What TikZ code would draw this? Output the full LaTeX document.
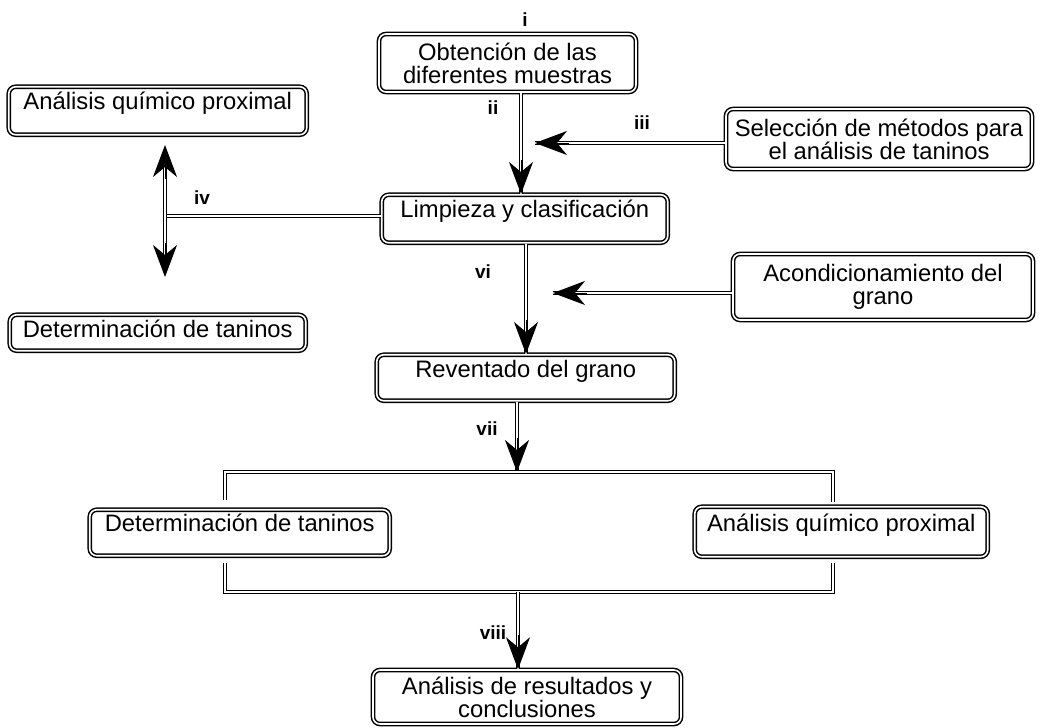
\documentclass[tikz,border=0pt]{standalone}
\usepackage{fontspec}
\setmainfont{Liberation Sans}
\usetikzlibrary{arrows.meta,calc}
\newcommand\boxfont{\fontsize{23.8}{23}\selectfont\lineskiplimit=-30pt}
\newcommand\labfont{\bfseries\fontsize{19}{19}\selectfont}
\begin{document}
\begin{tikzpicture}[x=1pt,y=-1pt,
  box/.style={draw, double, line width=1.5pt, double distance=1.6pt, rounded corners=7pt,
              inner sep=0pt, align=center, font=\boxfont},
  lab/.style={inner sep=0pt, font=\labfont},
  dbl/.style={draw, double, line width=1.2pt, double distance=1.3pt},
  tipA/.style={-{Stealth[length=32pt,width=24pt,inset=10pt]}, line width=1pt}]
\useasboundingbox[fill=white] (0,0) rectangle (1044,728);

% single-line boxes (text at top)
\node[box, anchor=north west, minimum width=298pt, text height=23pt, text depth=25pt] (aqp1) at (8,86) {An\'alisis qu\'imico proximal};
\node[box, anchor=north west, minimum width=296pt, text height=23pt, text depth=13pt] (det1) at (9,314) {Determinaci\'on de taninos};
\node[box, anchor=north west, minimum width=286pt, text height=23pt, text depth=25pt] (limp) at (381,194) {Limpieza y clasificaci\'on};
\node[box, anchor=north west, minimum width=298pt, text height=23pt, text depth=23pt] (rev) at (376,354) {Reventado del grano};
\node[box, anchor=north west, minimum width=300pt, text height=22pt, text depth=24pt] (det2) at (89,509) {Determinaci\'on de taninos};
\node[box, anchor=north west, minimum width=293pt, text height=25pt, text depth=25pt] (aqp2) at (694,506) {An\'alisis qu\'imico proximal};

% two-line boxes (centred)
\node[box, minimum width=257pt, minimum height=58pt] (obt) at (507.5,63) {Obtenci\'on de las\\diferentes muestras};
\node[box, minimum width=306pt, minimum height=60pt] (sel) at (879,139) {Selecci\'on de m\'etodos para\\el an\'alisis de taninos};
\node[box, minimum width=300pt, minimum height=66pt] (acond) at (883,287) {Acondicionamiento del\\grano};
\node[box, minimum width=308pt, minimum height=54pt] (final) at (527,697) {An\'alisis de resultados y\\conclusiones};

% labels
\node[lab] (li) at (525,20) {i};
\node[lab] (lii) at (493,108) {ii};
\node[lab] (liii) at (642,123) {iii};
\node[lab] (liv) at (202,198) {iv};
\node[lab] (lvi) at (483,272) {vi};
\node[lab] (lvii) at (487,429) {vii};
\node[lab] (lviii) at (493,633) {viii};

% helper coordinates
\coordinate (cx1) at (521,0);
\coordinate (cx2) at (526,0);
\coordinate (tipS) at (535,143);
\coordinate (tipC) at (553,293);
\coordinate (dv) at (167,216);
\coordinate (dtop) at (165,145);
\coordinate (dbot) at (165,277);
\coordinate (bt) at (517,472);
\coordinate (bb) at (518,592);
\coordinate (bl1) at (225,500);
\coordinate (bl0) at (225,472);
\coordinate (br0) at (833,472);
\coordinate (br1) at (833,502);
\coordinate (bl2) at (225,563);
\coordinate (bl3) at (225,592);
\coordinate (br3) at (833,592);
\coordinate (br2) at (833,563);

% obt -> limp
\draw[dbl] (obt.south -| cx1) -- (limp.north -| cx1);
\draw[tipA] ($(limp.north -| cx1)+(0,-34)$) -- (limp.north -| cx1);
% sel -> main line
\draw[dbl] (sel.west |- tipS) -- (tipS);
\draw[tipA] ($(tipS)+(34,0)$) -- (tipS);
% limp -> double arrow
\draw[dbl] (limp.west |- dv) -- (dv);
\draw[dbl] ($(dtop)+(0,10)$) -- ($(dbot)+(0,-10)$);
\draw[tipA] ($(dtop)+(0,34)$) -- (dtop);
\draw[tipA] ($(dbot)+(0,-34)$) -- (dbot);
% limp -> rev
\draw[dbl] (limp.south -| cx2) -- (rev.north -| cx2);
\draw[tipA] ($(rev.north -| cx2)+(0,-34)$) -- (rev.north -| cx2);
% acond -> main line
\draw[dbl] (acond.west |- tipC) -- (tipC);
\draw[tipA] ($(tipC)+(34,0)$) -- (tipC);
% rev -> bracket
\draw[dbl] (rev.south -| bt) -- (bt);
\draw[tipA] ($(bt)+(0,-34)$) -- (bt);
% brackets
\draw[dbl] (bl1) -- (bl0) -- (br0) -- (br1);
\draw[dbl] (bl2) -- (bl3) -- (br3) -- (br2);
% bracket -> final
\draw[dbl] (bb) -- (final.north -| bb);
\draw[tipA] ($(final.north -| bb)+(0,-34)$) -- (final.north -| bb);
\end{tikzpicture}
\end{document}
